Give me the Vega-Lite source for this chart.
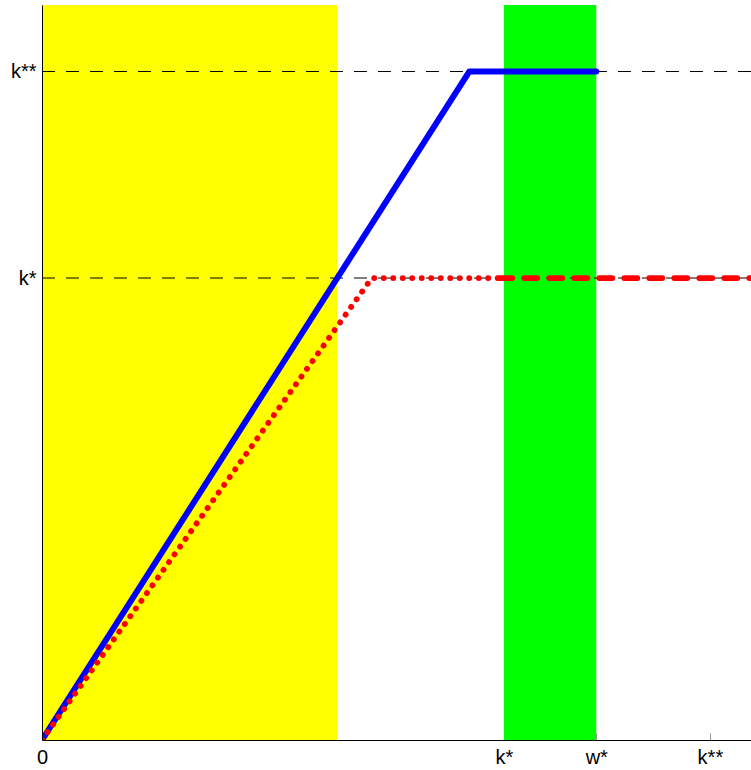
{
  "$schema": "https://vega.github.io/schema/vega-lite/v6.json",
  "width": 709,
  "height": 735,
  "autosize": "none",
  "padding": {"left": 42, "top": 5, "right": 0, "bottom": 30},
  "background": "white",
  "config": {
    "view": {"stroke": null},
    "axis": {"grid": false, "title": null, "labelFont": "Liberation Sans", "labelFontSize": 20, "labelColor": "black", "domain": true, "domainColor": "black", "domainWidth": 1}
  },
  "datasets": {
    "bands": [{"x": 0, "x2": 0.639, "band": "yellow"}, {"x": 1, "x2": 1.2, "band": "green"}],
    "levels": [{"y": 1}, {"y": 1.447}],
    "blue": [{"x": 0, "y": 0}, {"x": 0.925, "y": 1.447}, {"x": 1.2, "y": 1.447}],
    "reddot": [{"x": 0, "y": 0}, {"x": 0.714, "y": 1}, {"x": 0.99, "y": 1}],
    "reddash": [{"x": 0.99, "y": 1}, {"x": 1.6, "y": 1}]
  },
  "encoding": {
    "x": {"type": "quantitative", "scale": {"domain": [0, 1.535], "nice": false, "zero": false}},
    "y": {"type": "quantitative", "scale": {"domain": [0, 1.591], "nice": false, "zero": false}}
  },
  "layer": [
    {
      "data": {"name": "bands"},
      "mark": {"type": "rect", "clip": true},
      "encoding": {
        "x": {"field": "x", "type": "quantitative", "scale": {"domain": [0, 1.535], "nice": false}, "axis": {"values": [0, 1, 1.2, 1.446], "labelExpr": "datum.value == 0 ? '0' : datum.value == 1 ? 'k*' : datum.value == 1.2 ? 'w*' : 'k**'", "tickSize": -7, "tickColor": "#999999", "tickOpacity": {"condition": {"test": "datum.value > 1.1", "value": 1}, "value": 0}, "labelPadding": 14, "labelFlush": false, "zindex": 1}},
        "x2": {"field": "x2"},
        "color": {"field": "band", "type": "nominal", "scale": {"domain": ["yellow", "green"], "range": ["#FFFF00", "#00FF00"]}, "legend": null}
      }
    },
    {
      "data": {"name": "levels"},
      "mark": {"type": "rule", "color": "black", "strokeWidth": 1, "strokeDash": [13, 11], "clip": true},
      "encoding": {
        "y": {"field": "y", "type": "quantitative", "scale": {"domain": [0, 1.591], "nice": false}, "axis": {"values": [1, 1.447], "labelExpr": "datum.value == 1 ? 'k*' : 'k**'", "ticks": false, "domain": true, "labelPadding": 6, "zindex": 1}}
      }
    },
    {
      "data": {"name": "blue"},
      "mark": {"type": "line", "color": "#0000FF", "strokeWidth": 6, "strokeCap": "round", "strokeJoin": "round", "clip": true},
      "encoding": {"x": {"field": "x", "type": "quantitative"}, "y": {"field": "y", "type": "quantitative"}}
    },
    {
      "data": {"name": "reddot"},
      "mark": {"type": "line", "color": "#FF0000", "strokeWidth": 5.8, "strokeCap": "round", "strokeDash": [0.1, 9.4], "clip": true},
      "encoding": {"x": {"field": "x", "type": "quantitative"}, "y": {"field": "y", "type": "quantitative"}}
    },
    {
      "data": {"name": "reddash"},
      "mark": {"type": "line", "color": "#FF0000", "strokeWidth": 5.8, "strokeCap": "round", "strokeDash": [13, 12], "clip": true},
      "encoding": {"x": {"field": "x", "type": "quantitative"}, "y": {"field": "y", "type": "quantitative"}}
    }
  ]
}
